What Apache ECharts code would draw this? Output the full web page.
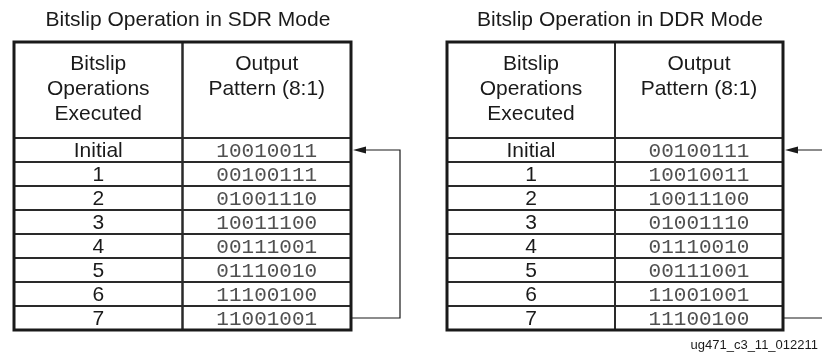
<!DOCTYPE html>
<html><head><meta charset="utf-8">
<script src="https://cdn.jsdelivr.net/npm/echarts@6/dist/echarts.min.js"></script>
<style>html,body{margin:0;padding:0;background:#fff}#c{width:822px;height:358px}</style>
</head><body><div id="c"></div>
<script>
const tableTitles = ['Bitslip Operation in SDR Mode', 'Bitslip Operation in DDR Mode'];
const headerLabels = ['Bitslip\nOperations\nExecuted', 'Output\nPattern (8:1)'];
const operations = ['Initial', '1', '2', '3', '4', '5', '6', '7'];
const sdrPatterns = ['10010011', '00100111', '01001110', '10011100', '00111001', '01110010', '11100100', '11001001'];
const ddrPatterns = ['00100111', '10010011', '10011100', '01001110', '01110010', '00111001', '11001001', '11100100'];
const loopFrom = 7, loopTo = 0;
const figureId = 'ug471_c3_11_012211';

const SANS = '"Liberation Sans", Arial, Helvetica, sans-serif';
const MONO = '"Liberation Mono", "Courier New", monospace';
const HEADER_ROWS = 4;
const INK = '#1a1a1a';

function buildCells(patterns) {
  const data = [], texts = [];
  headerLabels.forEach((h, c) => { data.push([c, -HEADER_ROWS, HEADER_ROWS, 0]); texts.push(h); });
  operations.forEach((op, r) => {
    data.push([0, r, 1, 1]); texts.push(op);
    data.push([1, r, 1, 2]); texts.push(patterns[r]);
  });
  return { data, texts };
}

function cellSeries(idx, patterns) {
  const cells = buildCells(patterns);
  return {
    type: 'custom', xAxisIndex: idx, yAxisIndex: idx, clip: false, silent: true,
    data: cells.data,
    renderItem: function (params, api) {
      const col = api.value(0), row = api.value(1), span = api.value(2), kind = api.value(3);
      const p0 = api.coord([col, row]), p1 = api.coord([col + 1, row + span]);
      const x = p0[0], y = p0[1], w = p1[0] - p0[0], h = p1[1] - p0[1];
      const txt = cells.texts[params.dataIndex];
      let text;
      if (kind === 0) {
        text = { type: 'text', style: { text: txt, x: x + w / 2, y: y + 10, align: 'center', verticalAlign: 'top', lineHeight: 25, font: '21px ' + SANS, fill: INK } };
      } else if (kind === 1) {
        text = { type: 'text', style: { text: txt, x: x + w / 2, y: y + h / 2 + 1, align: 'center', verticalAlign: 'middle', font: '21px ' + SANS, fill: INK } };
      } else {
        text = { type: 'text', style: { text: txt, x: x + w / 2, y: y + h / 2 + 1, align: 'center', verticalAlign: 'middle', font: '21px ' + MONO, fill: '#505050' } };
      }
      return { type: 'group', children: [
        { type: 'rect', shape: { x, y, width: w, height: h }, style: { fill: 'none', stroke: '#2a2a2a', lineWidth: 2 } },
        text
      ] };
    }
  };
}

function frameSeries(idx) {
  return {
    type: 'custom', xAxisIndex: idx, yAxisIndex: idx, clip: false, silent: true, z: 5,
    data: [[loopFrom, loopTo]],
    renderItem: function (params, api) {
      const from = api.value(0), to = api.value(1);
      const tl = api.coord([0, -HEADER_ROWS]), br = api.coord([2, operations.length]);
      const pb = api.coord([2, from + 0.5]), pt = api.coord([2, to + 0.5]);
      const xr = pb[0], ext = 49;
      return { type: 'group', children: [
        { type: 'rect', shape: { x: tl[0], y: tl[1], width: br[0] - tl[0], height: br[1] - tl[1] }, style: { fill: 'none', stroke: INK, lineWidth: 3 } },
        { type: 'polyline', shape: { points: [[xr + 1, pb[1]], [xr + ext, pb[1]], [xr + ext, pt[1]], [xr + 13, pt[1]]] }, style: { fill: 'none', stroke: INK, lineWidth: 1.2 } },
        { type: 'polygon', shape: { points: [[xr + 2, pt[1]], [xr + 15, pt[1] - 3.5], [xr + 15, pt[1] + 3.5]] }, style: { fill: INK } }
      ] };
    }
  };
}

const chart = echarts.init(document.getElementById('c'), null, { renderer: 'canvas' });
const titleStyle = { fontSize: 21, fontWeight: 'normal', fontFamily: SANS, color: INK };
chart.setOption({
  animation: false,
  backgroundColor: '#fff',
  title: [
    { text: tableTitles[0], left: 183, top: 5, textAlign: 'center', textStyle: titleStyle },
    { text: tableTitles[1], left: 615, top: 5, textAlign: 'center', textStyle: titleStyle },
    { text: figureId, right: 4, top: 339, padding: 0, textStyle: { fontSize: 13, fontWeight: 'normal', fontFamily: SANS, color: INK } }
  ],
  grid: [
    { left: 14, top: 42, width: 337, height: 288 },
    { left: 447, top: 42, width: 336, height: 288 }
  ],
  xAxis: [
    { gridIndex: 0, type: 'value', min: 0, max: 2, show: false },
    { gridIndex: 1, type: 'value', min: 0, max: 2, show: false }
  ],
  yAxis: [
    { gridIndex: 0, type: 'value', min: -HEADER_ROWS, max: operations.length, inverse: true, show: false },
    { gridIndex: 1, type: 'value', min: -HEADER_ROWS, max: operations.length, inverse: true, show: false }
  ],
  series: [cellSeries(0, sdrPatterns), cellSeries(1, ddrPatterns), frameSeries(0), frameSeries(1)]
});
</script></body></html>
